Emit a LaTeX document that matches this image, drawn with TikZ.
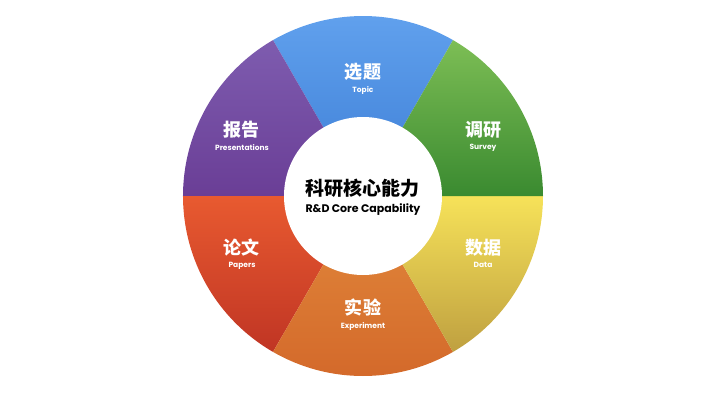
\documentclass[tikz,border=0pt]{standalone}
\usepackage{fontspec}
\newfontfamily\cjk{Noto Sans CJK SC}
\newfontfamily\lat{Poppins}
\usetikzlibrary{positioning}

\definecolor{bluetop}{HTML}{62A2EE}    \definecolor{bluebot}{HTML}{3C7DD5}
\definecolor{greentop}{HTML}{7DBE55}   \definecolor{greenbot}{HTML}{3A8A30}
\definecolor{yellowtop}{HTML}{F6E259}  \definecolor{yellowbot}{HTML}{BFA040}
\definecolor{orangetop}{HTML}{E28A3C}  \definecolor{orangebot}{HTML}{D3682A}
\definecolor{redtop}{HTML}{E85A30}     \definecolor{redbot}{HTML}{C03524}
\definecolor{purpletop}{HTML}{7E5CAF}  \definecolor{purplebot}{HTML}{6A3E96}

\tikzset{
  cnlabel/.style={text=white,font=\cjk\bfseries\fontsize{18}{20}\selectfont,inner sep=0pt},
  enlabel/.style={text=white,font=\lat\bfseries\fontsize{7.5}{8}\selectfont,inner sep=0pt},
}

\begin{document}
\begin{tikzpicture}[x=1pt,y=1pt]
\useasboundingbox (-363,-209) rectangle (357,196);

% ring of six sectors
\shade[top color=bluetop,bottom color=bluebot] (0,0) -- (60:180) arc (60:120:180) -- cycle;
\shade[top color=purpletop,bottom color=purplebot] (0,0) -- (120:180) arc (120:180:180) -- cycle;
\shade[top color=redtop,bottom color=redbot] (0,0) -- (180:180) arc (180:240:180) -- cycle;
\shade[top color=orangetop,bottom color=orangebot] (0,0) -- (240:180) arc (240:300:180) -- cycle;
\shade[top color=yellowtop,bottom color=yellowbot] (0,0) -- (300:180) arc (300:360:180) -- cycle;
\shade[top color=greentop,bottom color=greenbot] (0,0) -- (0:180) arc (0:60:180) -- cycle;

\node[circle,fill=white,minimum size=158pt](core) at (0,0) {};
\node[font=\cjk\bfseries\fontsize{19}{21}\selectfont,inner sep=0pt](corecn) at (0,8) {科研核心能力};
\node[font=\lat\bfseries\fontsize{11}{12}\selectfont,inner sep=0pt,below=6pt of corecn](coreen) {R\&D Core Capability};

\node[cnlabel](topic) at (0,124) {选题};
\node[enlabel,below=5.5pt of topic] {Topic};
\node[cnlabel](survey) at (120,66) {调研};
\node[enlabel,below=5.5pt of survey] {Survey};
\node[cnlabel](data) at (120,-52) {数据};
\node[enlabel,below=5.5pt of data] {Data};
\node[cnlabel](experiment) at (0,-112) {实验};
\node[enlabel,below=5.5pt of experiment] {Experiment};
\node[cnlabel](papers) at (-121,-52) {论文};
\node[enlabel,below=5.5pt of papers] {Papers};
\node[cnlabel](report) at (-121,66) {报告};
\node[enlabel,below=5.5pt of report] {Presentations};
\end{tikzpicture}
\end{document}
